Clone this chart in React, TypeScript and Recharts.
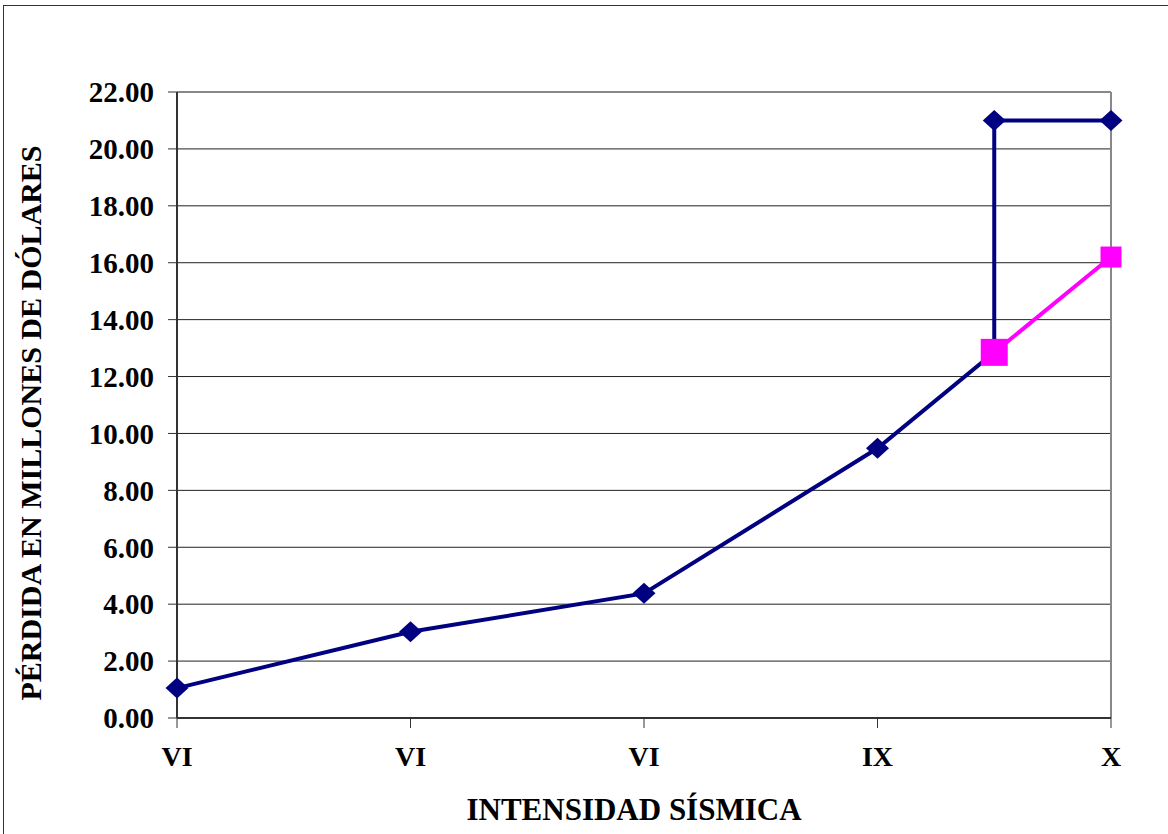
import React from 'react';
import { ComposedChart, Line, XAxis, YAxis, CartesianGrid, ReferenceLine, Label } from 'recharts';

const intensityTicks = [0, 1, 2, 3, 4];
const intensityLabels = ['VI', 'VI', 'VI', 'IX', 'X'];
const lossTicks = [0, 2, 4, 6, 8, 10, 12, 14, 16, 18, 20, 22];

const blueX = [0, 1, 2, 3, 3.5, 3.5, 4];
const blueY = [1.05, 3.03, 4.38, 9.48, 12.85, 21.0, 21.0];
const pinkX = [3.5, 4];
const pinkY = [12.85, 16.2];

const blueData = blueX.map((x, i) => ({ x, y: blueY[i] }));
const pinkData = pinkX.map((x, i) => ({ x, y: pinkY[i] }));

const FONT = '"Liberation Serif", "Times New Roman", serif';
const NAVY = '#000080';
const PINK = '#FF00FF';

const Diamond = (props: any) => {
  const { cx, cy } = props;
  if (cx == null || cy == null) return null;
  const rx = 11.5;
  const ry = 10.5;
  return <path d={`M${cx},${cy - ry} L${cx + rx},${cy} L${cx},${cy + ry} L${cx - rx},${cy} Z`} fill={NAVY} />;
};

const Square = (props: any) => {
  const { cx, cy, index } = props;
  if (cx == null || cy == null) return null;
  const s = index === 0 ? 27 : 21;
  return <rect x={cx - s / 2} y={cy - s / 2} width={s} height={s} fill={PINK} />;
};

export default function App() {
  return (
    <div style={{ position: 'absolute', left: 0, top: 0, width: 1168, height: 834, overflow: 'hidden', background: '#fff' }}>
      <div style={{ position: 'absolute', left: 3, top: 5, width: 1300, height: 1000, border: '1.5px solid #333' }} />
      <div style={{ position: 'absolute', left: 0, top: 0 }}>
        <ComposedChart width={1168} height={834} margin={{ top: 92, right: 57, bottom: 0, left: 0 }}>
          <CartesianGrid horizontal vertical={false} stroke="#222" strokeWidth={1} />
          <XAxis
            type="number"
            dataKey="x"
            domain={[0, 4]}
            ticks={intensityTicks}
            tickFormatter={(v: number) => intensityLabels[intensityTicks.indexOf(v)]}
            height={116}
            tickSize={10}
            tickMargin={18}
            axisLine={{ stroke: '#333', strokeWidth: 2 }}
            tickLine={{ stroke: '#333', strokeWidth: 1 }}
            tick={{ fill: '#000', fontFamily: FONT, fontWeight: 'bold', fontSize: 28 }}
          >
            <Label
              content={(p: any) => {
                const vb = p.viewBox || {};
                return (
                  <text x={vb.x + vb.width / 2 - 10} y={vb.y + 102} textAnchor="middle" fontFamily={FONT} fontWeight="bold" fontSize={31} fill="#000">
                    INTENSIDAD SÍSMICA
                  </text>
                );
              }}
            />
          </XAxis>
          <YAxis
            type="number"
            domain={[0, 22]}
            ticks={lossTicks}
            tickFormatter={(v: number) => v.toFixed(2)}
            width={177}
            tickSize={9}
            tickMargin={14}
            axisLine={{ stroke: '#333', strokeWidth: 2 }}
            tickLine={{ stroke: '#333', strokeWidth: 1 }}
            tick={{ fill: '#000', fontFamily: FONT, fontWeight: 'bold', fontSize: 29 }}
          >
            <Label
              content={(p: any) => {
                const vb = p.viewBox || {};
                const cx = 30;
                const cy = vb.y + vb.height / 2 + 18;
                return (
                  <text x={cx} y={cy} transform={`rotate(-90 ${cx} ${cy})`} textAnchor="middle" dominantBaseline="central" fontFamily={FONT} fontWeight="bold" fontSize={30} fill="#000">
                    PÉRDIDA EN MILLONES DE DÓLARES
                  </text>
                );
              }}
            />
          </YAxis>
          <ReferenceLine y={22} stroke="#888" strokeWidth={2} />
          <ReferenceLine x={4} stroke="#888" strokeWidth={2} />
          <Line data={blueData} dataKey="y" type="linear" stroke={NAVY} strokeWidth={4} dot={<Diamond />} activeDot={false} isAnimationActive={false} />
          <Line data={pinkData} dataKey="y" type="linear" stroke={PINK} strokeWidth={4} dot={<Square />} activeDot={false} isAnimationActive={false} />
        </ComposedChart>
      </div>
    </div>
  );
}
